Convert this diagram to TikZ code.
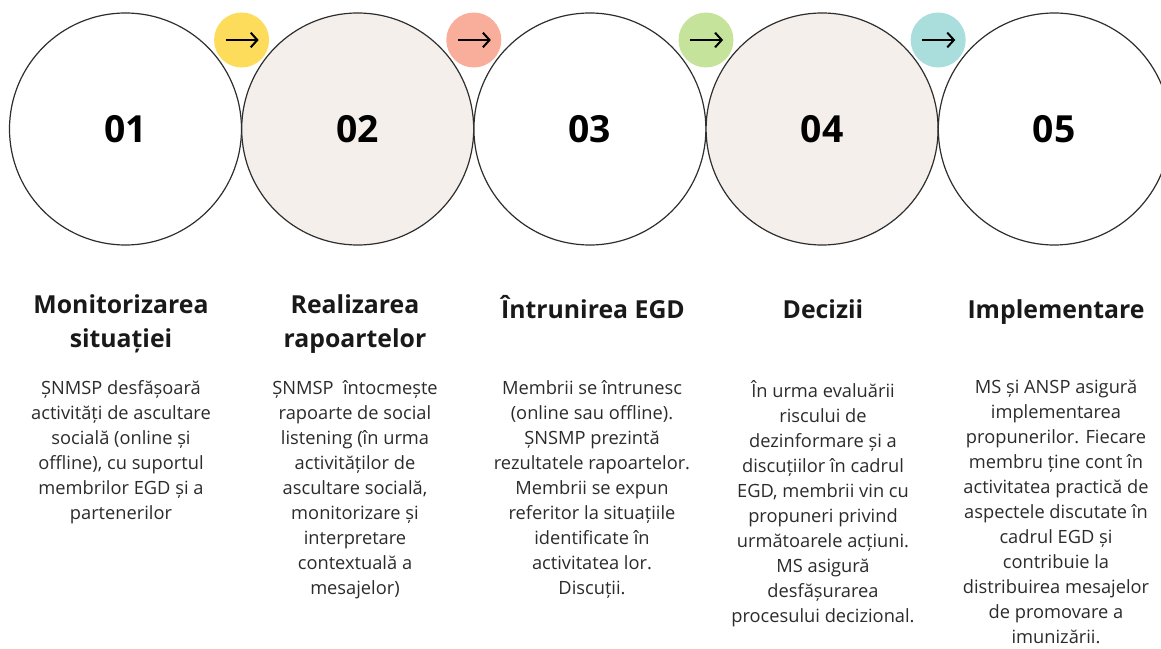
\documentclass[tikz,border=0pt]{standalone}
\usepackage{fontspec}
\setmainfont{Open Sans}
\usetikzlibrary{arrows.meta}
\definecolor{beige}{HTML}{F4EFEA}
\definecolor{ringline}{HTML}{2E2E2E}
\definecolor{dotyellow}{HTML}{FDDC5C}
\definecolor{dotsalmon}{HTML}{F9AE9C}
\definecolor{dotgreen}{HTML}{C6E39C}
\definecolor{dotteal}{HTML}{A9DEDD}
\definecolor{bodygray}{HTML}{2B2B2B}
\begin{document}
\begin{tikzpicture}[x=0.75pt, y=-0.75pt,
		ring/.style={circle, draw=ringline, line width=0.9pt, minimum size=174pt, inner sep=0pt,
			font=\fontsize{28}{32}\bfseries\selectfont},
		dot/.style={circle, minimum size=41.25pt, inner sep=0pt},
		arr/.style={-{Straight Barb[length=5pt, width=11pt]}, line width=1.5pt, black},
		head/.style={anchor=north, align=center, inner sep=0pt, text=black!90,
			execute at begin node=\strut, font=\fontsize{18.6}{25.5}\bfseries\selectfont},
		body/.style={anchor=north, align=center, inner sep=0pt, text=bodygray,
			execute at begin node=\strut, font=\fontsize{13.7}{18.75}\selectfont}]
	\useasboundingbox (0,0) rectangle (1161,649);

	\node[ring, fill=white] (c1) at (125.5, 129) {01};
	\node[ring, fill=beige] (c2) at (357.7, 129) {02};
	\node[ring, fill=white] (c3) at (589.9, 129) {03};
	\node[ring, fill=beige] (c4) at (822.1, 129) {04};
	\node[ring, fill=white] (c5) at (1054.3, 129) {05};

	\node[dot, fill=dotyellow] (s1) at (241.6, 40) {};
	\node[dot, fill=dotsalmon] (s2) at (473.8, 40) {};
	\node[dot, fill=dotgreen] (s3) at (706, 40) {};
	\node[dot, fill=dotteal] (s4) at (938.2, 40) {};

	\draw[arr] ([xshift=9]s1.west) -- ([xshift=-8]s1.east);
	\draw[arr] ([xshift=9]s2.west) -- ([xshift=-8]s2.east);
	\draw[arr] ([xshift=9]s3.west) -- ([xshift=-8]s3.east);
	\draw[arr] ([xshift=9]s4.west) -- ([xshift=-8]s4.east);

	\node[head] (h1) at (121, 294.2) {Monitorizarea\\situației};
	\node[head] (h2) at (355, 294.2) {Realizarea\\rapoartelor};
	\node[head] (h3) at (593, 294.2) {Întrunirea EGD};
	\node[head] (h4) at (823, 294.2) {Decizii};
	\node[head] (h5) at (1056, 294.2) {Implementare};

	\node[body] (t1) at (121, 380) {ȘNMSP desfășoară\\activități de ascultare\\socială (online și\\offline), cu suportul\\membrilor EGD și a\\partenerilor};
	\node[body] (t2) at (355, 380) {ȘNMSP\ \ întocmește\\rapoarte de social\\listening (în urma\\activităților de\\ascultare socială,\\monitorizare și\\interpretare\\contextuală a\\mesajelor)};
	\node[body] (t3) at (592, 380) {Membrii se întrunesc\\(online sau offline).\\ȘNSMP prezintă\\rezultatele rapoartelor.\\Membrii se expun\\referitor la situațiile\\identificate în\\activitatea lor.\\Discuții.};
	\node[body] (t4) at (823, 380) {În urma evaluării\\riscului de\\dezinformare și a\\discuțiilor în cadrul\\EGD, membrii vin cu\\propuneri privind\\următoarele acțiuni.\\MS asigură\\desfășurarea\\procesului decizional.};
	\node[body] (t5) at (1056, 380) {MS și ANSP asigură\\implementarea\\propunerilor. Fiecare\\membru ține cont în\\activitatea practică de\\aspectele discutate în\\cadrul EGD și\\contribuie la\\distribuirea mesajelor\\de promovare a\\imunizării.};
\end{tikzpicture}
\end{document}
